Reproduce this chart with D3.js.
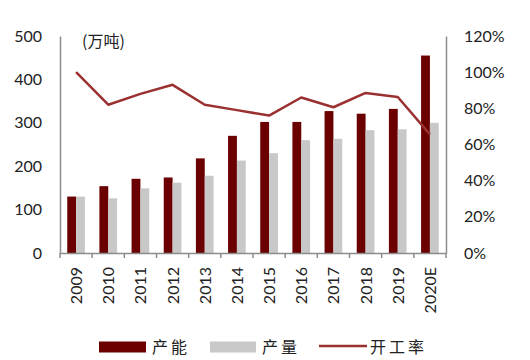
<!DOCTYPE html>
<html><head><meta charset="utf-8">
<script src="https://cdn.jsdelivr.net/npm/d3@7/dist/d3.min.js"></script>
<style>
html,body{margin:0;padding:0;background:#fff;}
svg text{font-family:Lato,"Open Sans",sans-serif;fill:#222;}
</style></head>
<body>
<svg id="chart" width="530" height="360"></svg>
<script>
const categories = ["2009","2010","2011","2012","2013","2014","2015","2016","2017","2018","2019","2020E"];
const capacity   = [130,154,171,174,218,270,302,302,327,321,332,455];
const output     = [130,126,149,162,178,213,230,260,263,283,285,300];
const utilization= [1.00,0.82,0.88,0.93,0.82,0.79,0.76,0.86,0.806,0.885,0.863,0.656];
const leftTicks  = [0,100,200,300,400,500];
const rightTicks = [0,0.2,0.4,0.6,0.8,1.0,1.2];
const seriesNames = ["产能","产量","开工率"];
const unitLabel = "(万吨)";

(function(){
const colCap = "#6b0000", colOut = "#c8c8c8", colLine = "#9a3030", axisCol = "#8c8c8c";

const svg = d3.select("#chart");
const mLeft = 60, mRight = 446, mTop = 36, mBottom = 253;

const x = d3.scaleBand().domain(categories).range([mLeft, mRight]).padding(0);
const sub = d3.scaleBand().domain(["cap","out"]).range([x.bandwidth()*0.225, x.bandwidth()*0.775]).padding(0);
const yL = d3.scaleLinear().domain([0,500]).range([mBottom, mTop]);
const yR = d3.scaleLinear().domain([0,1.2]).range([mBottom, mTop]);

// bars
const g = svg.append("g");
categories.forEach((c,i)=>{
  g.append("rect").attr("x", x(c)+sub("cap")).attr("width", sub.bandwidth())
    .attr("y", yL(capacity[i])).attr("height", yL(0)-yL(capacity[i])).attr("fill", colCap);
  g.append("rect").attr("x", x(c)+sub("out")).attr("width", sub.bandwidth())
    .attr("y", yL(output[i])).attr("height", yL(0)-yL(output[i])).attr("fill", colOut);
});

// line
const line = d3.line().x((d,i)=>x(categories[i])+x.bandwidth()/2).y(d=>yR(d));
svg.append("path").datum(utilization).attr("d", line)
  .attr("fill","none").attr("stroke", colLine).attr("stroke-width", 2.5).attr("stroke-linejoin","round");

// left axis
const axL = svg.append("g").attr("transform", `translate(${mLeft},0)`)
  .call(d3.axisLeft(yL).tickValues(leftTicks).tickSize(0).tickPadding(18));
axL.select(".domain").attr("stroke", axisCol).attr("stroke-width",1.5);
axL.selectAll("text").style("font-size","16px").style("font-family","Lato,sans-serif").attr("fill","#222");

// right axis
const axR = svg.append("g").attr("transform", `translate(${mRight},0)`)
  .call(d3.axisRight(yR).tickValues(rightTicks).tickSize(0).tickPadding(18).tickFormat(d3.format(".0%")));
axR.select(".domain").attr("stroke", axisCol).attr("stroke-width",1.5);
axR.selectAll("text").style("font-size","16px").style("font-family","Lato,sans-serif").attr("fill","#222");

// bottom axis
const axB = svg.append("g").attr("transform", `translate(0,${mBottom})`)
  .call(d3.axisBottom(x).tickSize(0).tickFormat(""));
axB.select(".domain").attr("stroke", axisCol).attr("stroke-width",1.5);
const bounds = categories.map(c=>x(c)).concat([mRight]);
axB.selectAll("line.bt").data(bounds).enter().append("line").attr("class","bt")
  .attr("x1",d=>d).attr("x2",d=>d).attr("y1",0).attr("y2",5).attr("stroke",axisCol).attr("stroke-width",1.5);
axB.selectAll("text.lbl").data(categories).enter().append("text").attr("class","lbl")
  .attr("transform", d=>`translate(${x(d)+x.bandwidth()/2+6},14) rotate(-90)`)
  .attr("text-anchor","end").style("font-size","16px").style("font-family","Lato,sans-serif")
  .attr("fill","#222").text(d=>d);

// unit label
svg.append("text").attr("x",82).attr("y",47).style("font-size","16px")
  .style("font-family","'Noto Sans CJK SC',sans-serif").attr("fill","#222").text(unitLabel);

// legend
const lg = svg.append("g");
const ly = 347;
lg.append("rect").attr("x",99).attr("y",ly-5.5).attr("width",47).attr("height",11).attr("fill",colCap);
lg.append("text").attr("x",152).attr("y",ly+5.5).text(seriesNames[0]);
lg.append("rect").attr("x",210).attr("y",ly-5.5).attr("width",46).attr("height",11).attr("fill",colOut);
lg.append("text").attr("x",262).attr("y",ly+5.5).text(seriesNames[1]);
lg.append("line").attr("x1",319).attr("x2",367).attr("y1",ly-1).attr("y2",ly-1).attr("stroke",colLine).attr("stroke-width",2.5);
lg.append("text").attr("x",370).attr("y",ly+5.5).text(seriesNames[2]);
lg.selectAll("text").style("font-size","16px").style("font-family","'Noto Sans CJK SC',sans-serif")
  .style("letter-spacing","3px").attr("fill","#222");
})();
</script>
</body></html>
